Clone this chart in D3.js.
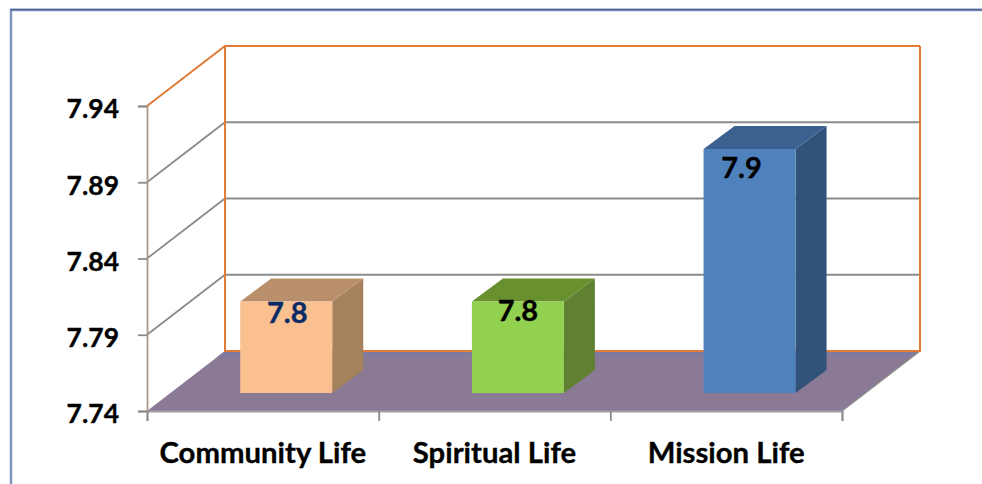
<!DOCTYPE html>
<html>
<head>
<meta charset="utf-8">
<script src="https://cdn.jsdelivr.net/npm/d3@7"></script>
<style>
  html, body { margin: 0; padding: 0; background: #fff; }
  text { font-family: Lato, "Open Sans", sans-serif; font-weight: 700; stroke: currentColor; stroke-width: 0.35px; }
</style>
</head>
<body>
<script>
const categories = ['Community Life', 'Spiritual Life', 'Mission Life'];
const values = [7.8, 7.8, 7.9];
const valueLabels = ['7.8', '7.8', '7.9'];
const yTicks = [7.74, 7.79, 7.84, 7.89, 7.94];

const width = 982;
const height = 484;

// fake 3d: the back wall sits up and to the right of the front plane
const depthX = 78;
const depthY = -60;
const plotLeft = 147, plotRight = 842, plotBottom = 411, plotTop = 106;
const barDepth = 0.3;      // where the bars stand on the floor
const barWidth = 92;
const barSideX = 31, barSideY = -23;

const faces = [
  { front: '#fac090', side: '#a5815c', top: '#ba8f6c' },
  { front: '#92d050', side: '#5f8131', top: '#68902f' },
  { front: '#4f81bd', side: '#325379', top: '#3a618f' }
];
// label nudges against the bar centre / bar top, as placed in the picture
const labelDx = [1, 0, -8];
const labelDy = [21, 19, 29];
const labelColors = ['#0a2a66', '#000', '#000'];

const svg = d3.select('body').append('svg')
  .attr('width', width)
  .attr('height', height)
  .style('display', 'block');

const y = d3.scaleLinear().domain([7.74, 7.94]).range([plotBottom, plotTop]);
const x = d3.scaleBand().domain(categories).range([plotLeft, plotRight]);

// outer frame, only top and left show
svg.append('path')
  .attr('d', `M11,484V10H${width}`)
  .attr('fill', 'none')
  .attr('stroke', '#7f93bb')
  .attr('stroke-width', 2.5);
svg.append('path')
  .attr('d', `M10,9.5H${width}`)
  .attr('fill', 'none')
  .attr('stroke', '#4f6494')
  .attr('stroke-width', 1.5);

// floor
svg.append('path')
  .attr('d', `M${plotLeft},${plotBottom}L${plotLeft + depthX},${plotBottom + depthY}H${plotRight + depthX}L${plotRight},${plotBottom}Z`)
  .attr('fill', '#8a7a96');
// slightly bluer strip along the back of the floor
svg.append('path')
  .attr('d', `M${plotLeft + depthX - 8},${plotBottom + depthY + 6}L${plotLeft + depthX},${plotBottom + depthY}H${plotRight + depthX}L${plotRight + depthX - 8},${plotBottom + depthY + 6}Z`)
  .attr('fill', '#7f7a9e');
svg.append('path')
  .attr('d', `M${plotRight},${plotBottom}L${plotRight + depthX},${plotBottom + depthY}`)
  .attr('stroke', '#8c8c8c')
  .attr('stroke-width', 1.5);

// gridlines, wall and side
svg.append('g').selectAll('path')
  .data(yTicks.slice(1))
  .enter()
  .append('path')
  .attr('d', d => `M${plotLeft},${y(d)}L${plotLeft + depthX},${y(d) + depthY}H${plotRight + depthX}`)
  .attr('fill', 'none')
  .attr('stroke', d => d === 7.94 ? '#e07b39' : '#8c8c8c')
  .attr('stroke-width', d => d === 7.94 ? 2 : 1.8);

// back wall edges
svg.append('path')
  .attr('d', `M${plotLeft + depthX},${y(7.94) + depthY}V${y(7.74) + depthY}H${plotRight + depthX}V${y(7.94) + depthY}`)
  .attr('fill', 'none')
  .attr('stroke', '#e07b39')
  .attr('stroke-width', 2);

// bars
const bars = svg.append('g').selectAll('g')
  .data(categories)
  .enter()
  .append('g');

const bx = (d) => x(d) + x.bandwidth() / 2 + depthX * barDepth - barWidth / 2;
const by0 = y(7.74) + depthY * barDepth;
const byv = (i) => y(values[i]) + depthY * barDepth;

bars.append('path')
  .attr('d', (d, i) => `M${bx(d) + barWidth},${byv(i)}l${barSideX},${barSideY}V${by0 + barSideY}l${-barSideX},${-barSideY}Z`)
  .attr('fill', (d, i) => faces[i].side);
bars.append('path')
  .attr('d', (d, i) => `M${bx(d)},${byv(i)}l${barSideX},${barSideY}h${barWidth}l${-barSideX},${-barSideY}Z`)
  .attr('fill', (d, i) => faces[i].top);
bars.append('rect')
  .attr('x', d => bx(d))
  .attr('y', (d, i) => byv(i))
  .attr('width', barWidth)
  .attr('height', (d, i) => by0 - byv(i))
  .attr('fill', (d, i) => faces[i].front);
bars.append('text')
  .attr('x', d => bx(d) + barWidth / 2)
  .attr('dx', (d, i) => labelDx[i])
  .attr('y', (d, i) => byv(i) + labelDy[i])
  .attr('text-anchor', 'middle')
  .attr('font-size', 29)
  .attr('fill', (d, i) => labelColors[i])
  .style('color', (d, i) => labelColors[i])
  .text((d, i) => valueLabels[i]);

// y axis
const yAxis = d3.axisLeft(y)
  .tickValues(yTicks)
  .tickSize(9)
  .tickPadding(19)
  .tickFormat(d3.format('.2f'));
const yG = svg.append('g')
  .attr('transform', `translate(${plotLeft},0)`)
  .call(yAxis);
yG.select('.domain').attr('stroke', '#a89a88').attr('stroke-width', 1.8);
yG.selectAll('.tick line').attr('stroke', '#8c8c8c').attr('stroke-width', 1.8);
yG.selectAll('.tick text').attr('fill', '#000').attr('font-size', 26.5).attr('dy', '0.45em').style('color', '#000');
yG.attr('font-family', null).attr('font-size', null);

// x axis
const xEdges = d3.scaleLinear().domain([0, categories.length]).range([plotLeft, plotRight]);
const xAxisTicks = d3.axisBottom(xEdges)
  .tickValues(d3.range(categories.length + 1))
  .tickSize(10)
  .tickFormat('');
const xG = svg.append('g')
  .attr('transform', `translate(0,${plotBottom})`)
  .call(xAxisTicks);
xG.select('.domain').attr('stroke', '#a0a0a0').attr('stroke-width', 1.8);
xG.selectAll('.tick line').attr('stroke', '#8c8c8c').attr('stroke-width', 1.8);

svg.append('g').selectAll('text')
  .data(categories)
  .enter()
  .append('text')
  .attr('x', d => x(d) + x.bandwidth() / 2)
  .attr('y', 463)
  .attr('text-anchor', 'middle')
  .attr('font-size', 29.3)
  .attr('fill', '#000')
  .style('color', '#000')
  .text(d => d);
</script>
</body>
</html>
